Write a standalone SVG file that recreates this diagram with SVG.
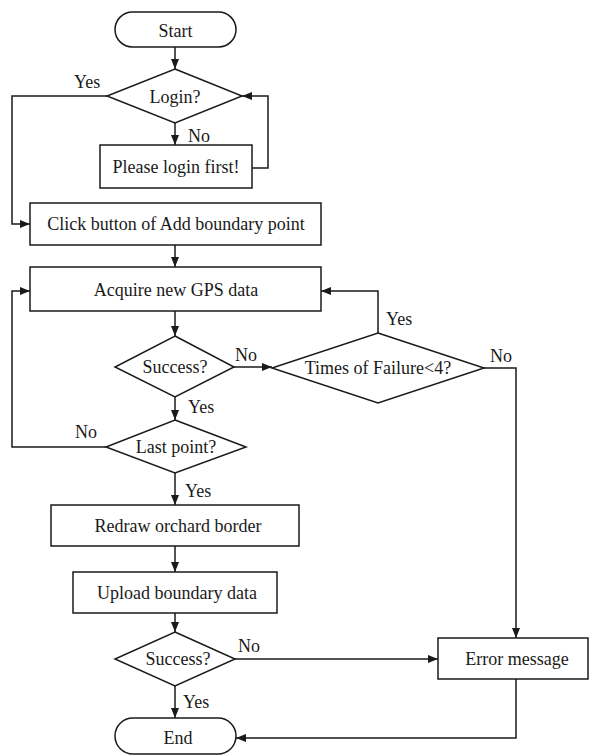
<svg xmlns="http://www.w3.org/2000/svg" width="590" height="756" viewBox="0 0 590 756">
<style>
.s{fill:#fff;stroke:#1a1a1a;stroke-width:1.5}
.c{fill:none;stroke:#1a1a1a;stroke-width:1.5}
text{font-family:"Liberation Serif","Times New Roman",serif;font-size:18px;fill:#1a1a1a}
.m{text-anchor:middle}
</style>
<defs>
<marker id="a" viewBox="0 0 10 10" refX="10" refY="5" markerWidth="10" markerHeight="10" markerUnits="userSpaceOnUse" orient="auto">
<path d="M0,1 L10,5 L0,9 Z" fill="#1a1a1a"/>
</marker>
</defs>
<rect width="590" height="756" fill="#fff"/>
<g id="connectors">
<path class="c" d="M175,47 V69" marker-end="url(#a)"/>
<path class="c" d="M107,96 H12 V224 H30" marker-end="url(#a)"/>
<path class="c" d="M175,123 V145" marker-end="url(#a)"/>
<path class="c" d="M252,168 H268 V96 H242" marker-end="url(#a)"/>
<path class="c" d="M175,245 V267" marker-end="url(#a)"/>
<path class="c" d="M175,311 V336" marker-end="url(#a)"/>
<path class="c" d="M234,367 H272" marker-end="url(#a)"/>
<path class="c" d="M378,333 V291 H321" marker-end="url(#a)"/>
<path class="c" d="M484,368 H516 V638" marker-end="url(#a)"/>
<path class="c" d="M175,397 V420" marker-end="url(#a)"/>
<path class="c" d="M106,447 H12 V291 H30" marker-end="url(#a)"/>
<path class="c" d="M175,473 V505" marker-end="url(#a)"/>
<path class="c" d="M175,546 V572" marker-end="url(#a)"/>
<path class="c" d="M175,613 V632" marker-end="url(#a)"/>
<path class="c" d="M235,659 H438" marker-end="url(#a)"/>
<path class="c" d="M175,686 V718" marker-end="url(#a)"/>
<path class="c" d="M516,679 V738 H236" marker-end="url(#a)"/>
<text x="74" y="88">Yes</text>
<text x="188" y="142">No</text>
<text x="235" y="361">No</text>
<text x="188" y="413">Yes</text>
<text x="386" y="325">Yes</text>
<text x="490" y="362">No</text>
<text x="75" y="438">No</text>
<text x="185" y="497">Yes</text>
<text x="238" y="652">No</text>
<text x="183" y="708">Yes</text>
</g>
<g id="start">
<rect class="s" x="115" y="12" width="121" height="35" rx="17.5"/>
<text class="m" x="175.5" y="37">Start</text>
</g>
<g id="login">
<polygon class="s" points="175,69 242,96 175,123 107,96"/>
<text class="m" x="175" y="103">Login?</text>
</g>
<g id="pleaseLogin">
<rect class="s" x="100" y="145" width="152" height="43"/>
<text class="m" x="176" y="173">Please login first!</text>
</g>
<g id="clickButton">
<rect class="s" x="30" y="203" width="291" height="42"/>
<text class="m" x="176" y="230">Click button of Add boundary point</text>
</g>
<g id="acquire">
<rect class="s" x="30" y="267" width="291" height="44"/>
<text class="m" x="176" y="296">Acquire new GPS data</text>
</g>
<g id="success1">
<polygon class="s" points="175,336 234,367 175,397 115,367"/>
<text class="m" x="175" y="373">Success?</text>
</g>
<g id="timesFailure">
<polygon class="s" points="378,333 484,368 378,403 272,368"/>
<text class="m" x="378" y="374">Times of Failure&lt;4?</text>
</g>
<g id="lastPoint">
<polygon class="s" points="175,420 246,447 175,473 106,447"/>
<text class="m" x="176" y="453">Last point?</text>
</g>
<g id="redraw">
<rect class="s" x="51" y="505" width="248" height="41"/>
<text class="m" x="178" y="532">Redraw orchard border</text>
</g>
<g id="upload">
<rect class="s" x="73" y="572" width="204" height="41"/>
<text class="m" x="177" y="599">Upload boundary data</text>
</g>
<g id="success2">
<polygon class="s" points="175,632 235,659 175,686 115,659"/>
<text class="m" x="178" y="665">Success?</text>
</g>
<g id="error">
<rect class="s" x="438" y="638" width="150" height="41"/>
<text class="m" x="517" y="665">Error message</text>
</g>
<g id="end">
<rect class="s" x="115" y="718" width="121" height="36" rx="18"/>
<text class="m" x="178" y="744">End</text>
</g>
</svg>
